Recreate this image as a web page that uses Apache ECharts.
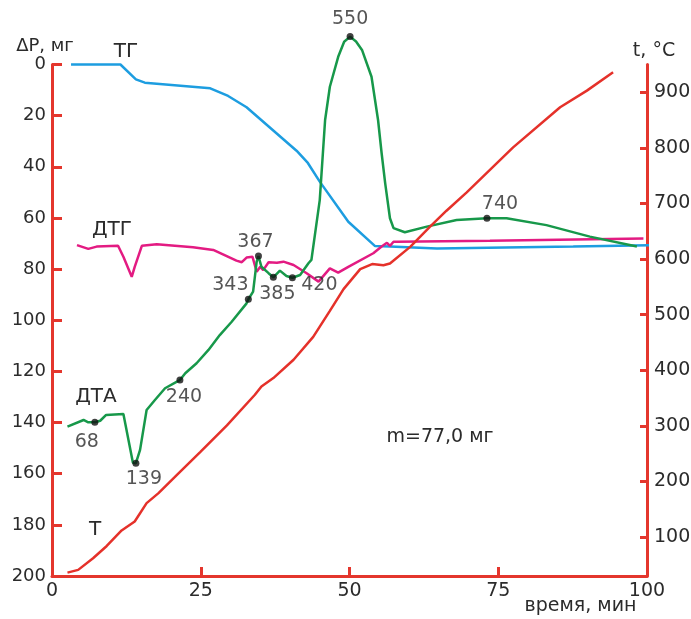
<!DOCTYPE html>
<html>
<head>
<meta charset="utf-8">
<script src="https://cdn.jsdelivr.net/npm/echarts@6/dist/echarts.min.js"></script>
<style>
html, body { margin: 0; padding: 0; background: #fff; }
#main { width: 691px; height: 619px; }
</style>
</head>
<body>
<div id="main"></div>
<script>
// ТГ - потеря массы, мг
var tgTime = [3.2, 11.5, 14.1, 15.6, 26.6, 29.6, 32.7, 41.1, 43.0, 45.0, 49.8, 54.3, 56.8, 64.7, 87.6, 102.2];
var tgLoss = [0, 0, 5.8, 7.1, 9.3, 12.3, 16.7, 33.7, 38.5, 45.8, 61.5, 71.0, 71.2, 71.9, 71.2, 70.6];

// ДТГ
var dtgTime = [4.2, 6.1, 7.5, 11.1, 12.0, 13.4, 13.9, 15.1, 17.6, 23.7, 27.1, 31.0, 31.9, 32.7, 33.7, 34.4, 35.0, 35.5, 36.4, 37.8, 38.9, 40.6, 42.8, 44.8, 46.7, 48.1, 49.8, 54.0, 55.4, 56.3, 56.8, 57.4, 57.9, 73.6, 99.4];
var dtgVal = [70.6, 72.1, 71.2, 70.9, 75.2, 83.0, 79.1, 70.9, 70.3, 71.5, 72.5, 76.7, 77.3, 75.5, 75.2, 81.0, 79.1, 80.4, 77.3, 77.5, 77.1, 78.4, 81.6, 84.9, 79.7, 81.4, 79.1, 73.8, 71.2, 69.7, 70.9, 69.3, 69.3, 68.9, 68.0];

// ДТА
var dtaTime = [2.6, 5.3, 6.1, 7.2, 8.1, 9.1, 12.0, 13.6, 14.1, 14.8, 15.9, 17.3, 19.0, 21.0, 21.5, 22.4, 24.3, 26.3, 28.2, 30.2, 32.7, 33.0, 33.8, 34.4, 34.7, 35.2, 36.4, 37.2, 38.3, 39.4, 40.4, 41.7, 43.1, 43.6, 45.0, 45.9, 46.7, 48.1, 49.1, 50.1, 51.1, 52.1, 53.7, 54.8, 55.4, 56.0, 56.8, 57.4, 59.3, 63.0, 68.0, 73.1, 76.4, 83.1, 90.4, 98.3];
var dtaVal = [141.6, 139.0, 139.9, 139.9, 139.3, 137.0, 136.7, 155.7, 155.9, 150.7, 135.1, 131.2, 126.6, 124.0, 123.4, 120.7, 116.8, 111.6, 105.8, 100.6, 93.4, 91.8, 88.8, 77.1, 74.9, 79.1, 81.6, 83.2, 80.6, 82.7, 83.4, 82.3, 77.7, 76.4, 53.0, 21.7, 8.7, -3.0, -8.9, -10.9, -9.0, -5.7, 4.8, 21.7, 34.7, 46.5, 60.1, 64.0, 65.6, 63.4, 60.8, 60.1, 60.1, 62.8, 67.3, 71.2];

// отмеченные точки на ДТА (температуры, °C)
var peakTime = [7.2, 14.1, 21.5, 33.0, 34.7, 37.2, 40.4, 50.1, 73.1];
var peakVal = [139.9, 155.9, 123.4, 91.8, 74.9, 83.2, 83.4, -10.9, 60.1];
var peakTemp = ['68', '139', '240', '343', '367', '385', '420', '550', '740'];

// Т - температура, °C
var tTime = [2.6, 4.4, 6.9, 9.2, 11.7, 13.9, 15.9, 17.9, 21.0, 24.9, 29.4, 34.1, 35.2, 37.2, 40.6, 43.9, 46.7, 49.0, 51.8, 53.8, 55.7, 56.8, 60.2, 63.5, 66.3, 69.7, 77.5, 85.4, 89.9, 94.3];
var tTemp = [36, 41, 62, 84, 112, 128, 161, 179, 212, 253, 301, 356, 371, 386, 419, 460, 507, 546, 582, 591, 589, 592, 622, 658, 687, 720, 801, 873, 903, 936];

var tempTicks = [100, 200, 300, 400, 500, 600, 700, 800, 900];

// смещения подписей точек (px)
var peakLabelOffset = [[-8, 20], [8, 16], [4, 17], [-18, -14], [-3, -14], [4, 17], [27, 7], [0, -18], [13, -14]];

function pairs(xs, ys) {
    return xs.map(function (x, i) { return [x, ys[i]]; });
}

var FONT = 'DejaVu Sans';
var TXT = '#2b2b2b';
var AXIS_RED = '#e4362d';

var chart = echarts.init(document.getElementById('main'));

var option = {
    backgroundColor: '#ffffff',
    animation: false,
    textStyle: { fontFamily: FONT },
    grid: { left: 52, right: 44, top: 64.5, bottom: 43, containLabel: false, outerBoundsMode: 'none' },
    xAxis: {
        type: 'value',
        min: 0, max: 100, interval: 25,
        name: 'время, мин',
        nameLocation: 'middle',
        nameGap: 21,
        nameMoveOverlap: false,
        nameTextStyle: { fontSize: 19, color: TXT, padding: [0, 0, 0, 462] },
        axisLine: { onZero: false, lineStyle: { color: AXIS_RED, width: 3 } },
        axisTick: { inside: true, length: 9, lineStyle: { color: AXIS_RED, width: 3 } },
        axisLabel: { fontSize: 19, color: TXT, margin: 6 },
        splitLine: { show: false }
    },
    yAxis: [{
        type: 'value',
        inverse: true,
        min: 0, max: 200, interval: 20,
        name: 'ΔP, мг',
        nameLocation: 'start',
        nameGap: 8,
        nameTextStyle: { fontSize: 18, color: TXT, padding: [0, 14, 0, 0] },
        axisLine: { lineStyle: { color: AXIS_RED, width: 3 } },
        axisTick: { inside: true, length: 10, lineStyle: { color: AXIS_RED, width: 3 } },
        axisLabel: { fontSize: 18, color: TXT, margin: 6 },
        splitLine: { show: false }
    }, {
        type: 'value',
        position: 'right',
        min: 30, max: 950,
        name: 't, °C',
        nameLocation: 'end',
        nameGap: 4,
        nameTextStyle: { fontSize: 19, color: TXT, padding: [0, 0, 0, 14] },
        axisLine: { lineStyle: { color: AXIS_RED, width: 3 } },
        axisTick: { inside: true, length: 7, customValues: tempTicks, lineStyle: { color: AXIS_RED, width: 3 } },
        axisLabel: { fontSize: 19, color: TXT, margin: 7, customValues: tempTicks },
        splitLine: { show: false }
    }],
    graphic: [
        { type: 'text', x: 126, y: 52, style: { text: 'ТГ', font: '20px "' + FONT + '"', fill: TXT, align: 'center', verticalAlign: 'middle' } },
        { type: 'text', x: 112, y: 230, style: { text: 'ДТГ', font: '20px "' + FONT + '"', fill: TXT, align: 'center', verticalAlign: 'middle' } },
        { type: 'text', x: 96, y: 397, style: { text: 'ДТА', font: '20px "' + FONT + '"', fill: TXT, align: 'center', verticalAlign: 'middle' } },
        { type: 'text', x: 95, y: 530, style: { text: 'Т', font: '20px "' + FONT + '"', fill: TXT, align: 'center', verticalAlign: 'middle' } },
        { type: 'text', x: 440, y: 437, style: { text: 'm=77,0 мг', font: '19px "' + FONT + '"', fill: TXT, align: 'center', verticalAlign: 'middle' } }
    ],
    series: [{
        name: 'ТГ',
        type: 'line',
        data: pairs(tgTime, tgLoss),
        showSymbol: false,
        clip: false,
        lineStyle: { color: '#1d9de0', width: 2.5 }
    }, {
        name: 'ДТГ',
        type: 'line',
        data: pairs(dtgTime, dtgVal),
        showSymbol: false,
        clip: false,
        lineStyle: { color: '#e31b82', width: 2.5 }
    }, {
        name: 'ДТА',
        type: 'line',
        data: pairs(dtaTime, dtaVal),
        showSymbol: false,
        clip: false,
        lineStyle: { color: '#17984a', width: 2.5 }
    }, {
        name: 'Т',
        type: 'line',
        yAxisIndex: 1,
        data: pairs(tTime, tTemp),
        showSymbol: false,
        clip: false,
        lineStyle: { color: '#e5312a', width: 2.5 }
    }, {
        name: 'пики',
        type: 'scatter',
        symbol: 'circle',
        symbolSize: 7,
        clip: false,
        z: 5,
        itemStyle: { color: '#111111' },
        data: peakTime.map(function (x, i) {
            return {
                value: [x, peakVal[i]],
                label: { offset: peakLabelOffset[i] }
            };
        }),
        label: {
            show: true,
            position: 'inside',
            formatter: function (p) { return peakTemp[p.dataIndex]; },
            fontSize: 19,
            color: TXT,
            align: 'center',
            verticalAlign: 'middle'
        }
    }]
};

chart.setOption(option);
</script>
</body>
</html>
